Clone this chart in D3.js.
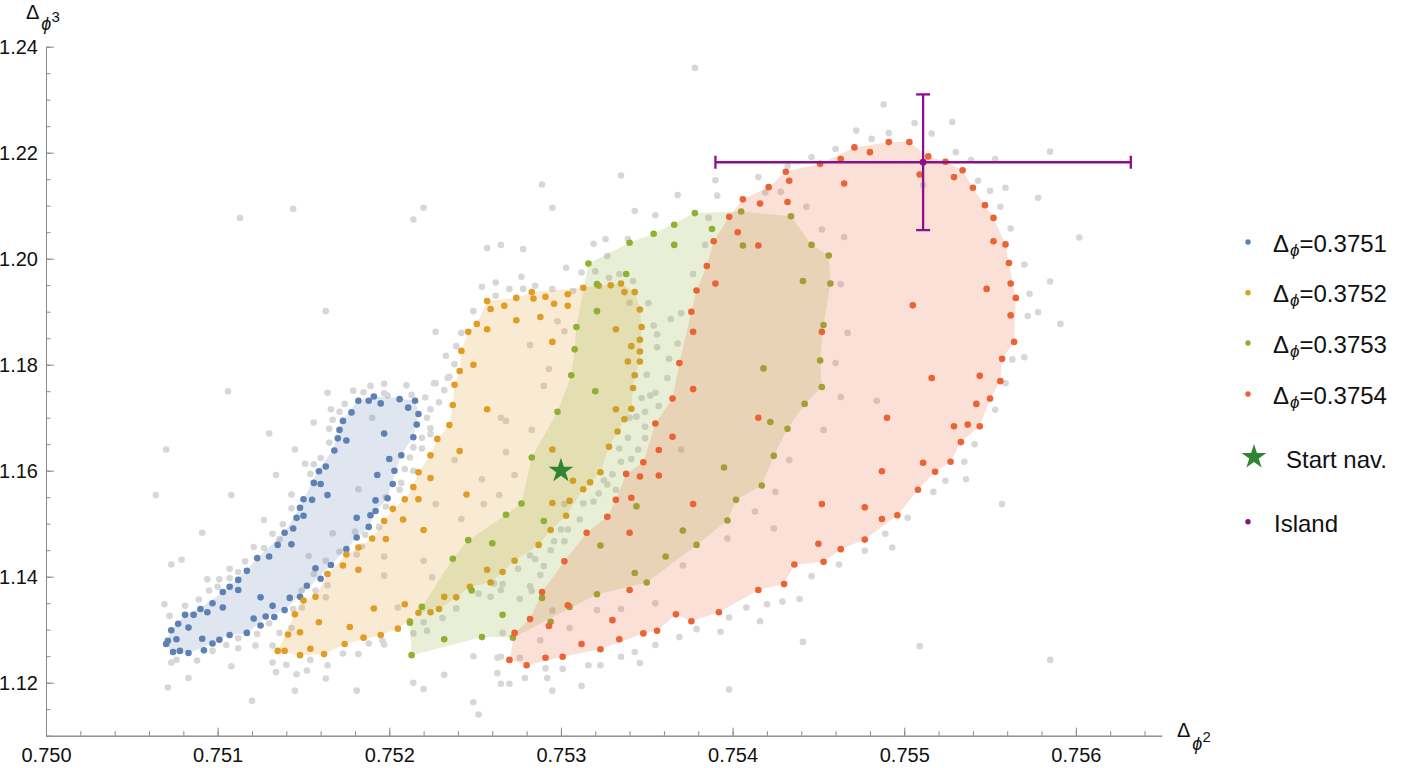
<!DOCTYPE html>
<html>
<head>
<meta charset="utf-8">
<script src="https://cdn.jsdelivr.net/npm/d3@7"></script>
<style>
  body { margin: 0; background: #fff; }
  text { font-family: "Liberation Sans", Arial, sans-serif; }
</style>
</head>
<body>
<script>
// ---- data (Δφ² , Δφ³) ----
var seriesLabels = ['=0.3751', '=0.3752', '=0.3753', '=0.3754'];
var seriesColors = ['#5e81b5', '#e19c24', '#8fb032', '#eb6235'];

var blue = [
[0.75070,1.1273],[0.75071,1.1279],[0.75073,1.1299],[0.75076,1.1282],[0.75074,1.1258],[0.75078,1.1260],[0.75083,1.1256],[0.75077,1.1311],[0.75083,1.1304],[0.75081,1.1328],
[0.75086,1.1328],[0.75090,1.1339],[0.75094,1.1333],[0.75097,1.1350],[0.75103,1.1342],[0.75103,1.1371],[0.75107,1.1381],[0.75112,1.1375],[0.75112,1.1394],[0.75117,1.1411],
[0.75123,1.1435],[0.75130,1.1438],[0.75135,1.1460],[0.75139,1.1483],[0.75143,1.1461],[0.75144,1.1491],[0.75146,1.1511],[0.75148,1.1530],[0.75150,1.1515],[0.75150,1.1546],
[0.75155,1.1545],[0.75156,1.1577],[0.75160,1.1575],[0.75159,1.1599],[0.75164,1.1554],[0.75163,1.1608],[0.75168,1.1638],[0.75170,1.1661],[0.75171,1.1677],[0.75175,1.1657],
[0.75173,1.1694],[0.75178,1.1710],[0.75182,1.1732],[0.75188,1.1732],[0.75191,1.1740],[0.75195,1.1727],[0.75206,1.1735],[0.75215,1.1732],[0.75211,1.1719],[0.75217,1.1707],
[0.75216,1.1687],[0.75214,1.1663],[0.75197,1.1670],[0.75200,1.1622],[0.75207,1.1629],[0.75193,1.1592],[0.75203,1.1600],[0.75202,1.1575],[0.75199,1.1548],[0.75192,1.1544],
[0.75192,1.1524],[0.75189,1.1516],[0.75181,1.1511],[0.75188,1.1494],[0.75181,1.1474],[0.75175,1.1452],[0.75166,1.1422],[0.75160,1.1396],[0.75157,1.1416],[0.75152,1.1383],
[0.75148,1.1362],[0.75142,1.1360],[0.75139,1.1337],[0.75132,1.1345],[0.75133,1.1324],[0.75128,1.1325],[0.75125,1.1308],[0.75121,1.1321],[0.75125,1.1361],[0.75117,1.1294],
[0.75107,1.1290],[0.75101,1.1281],[0.75097,1.1274],[0.75091,1.1283],[0.75092,1.1261]
];

var orange = [
[0.75313,1.1945],[0.75304,1.1933],[0.75304,1.1911],[0.75296,1.1915],[0.75291,1.1928],[0.75284,1.1925],[0.75283,1.1937],[0.75274,1.1926],[0.75267,1.1911],[0.75259,1.1905],
[0.75257,1.1920],[0.75257,1.1867],[0.75251,1.1877],[0.75246,1.1862],[0.75242,1.1826],[0.75249,1.1800],[0.75241,1.1788],[0.75238,1.1762],[0.75237,1.1724],[0.75257,1.1716],
[0.75235,1.1686],[0.75228,1.1660],[0.75241,1.1637],[0.75224,1.1629],[0.75224,1.1586],[0.75217,1.1597],[0.75214,1.1569],[0.75209,1.1546],[0.75217,1.1546],[0.75208,1.1508],
[0.75220,1.1488],[0.75245,1.1555],[0.75295,1.1843],[0.75274,1.1884],[0.75288,1.1890],[0.75322,1.1949],[0.75329,1.1950],[0.75335,1.1953],[0.75337,1.1937],[0.75343,1.1937],
[0.75346,1.1904],[0.75332,1.1867],[0.75347,1.1871],[0.75346,1.1847],[0.75341,1.1835],[0.75346,1.1825],[0.75339,1.1806],[0.75346,1.1806],[0.75343,1.1780],[0.75342,1.1756],
[0.75332,1.1716],[0.75341,1.1717],[0.75337,1.1697],[0.75333,1.1674],[0.75328,1.1645],[0.75323,1.1597],[0.75317,1.1578],[0.75313,1.1565],[0.75307,1.1581],[0.75295,1.1640],
[0.75295,1.1539],[0.75305,1.1543],[0.75303,1.1515],[0.75294,1.1488],[0.75287,1.1460],[0.75273,1.1430],[0.75266,1.1409],[0.75257,1.1413],[0.75259,1.1389],[0.75247,1.1381],
[0.75239,1.1361],[0.75232,1.1362],[0.75229,1.1339],[0.75224,1.1333],[0.75217,1.1332],[0.75212,1.1316],[0.75209,1.1348],[0.75202,1.1528],[0.75197,1.1505],[0.75198,1.1471],
[0.75190,1.1472],[0.75182,1.1455],[0.75175,1.1442],[0.75173,1.1421],[0.75182,1.1413],[0.75164,1.1405],[0.75157,1.1362],[0.75150,1.1355],[0.75145,1.1329],[0.75148,1.1295],
[0.75141,1.1291],[0.75159,1.1314],[0.75177,1.1305],[0.75191,1.1340],[0.75205,1.1302],[0.75195,1.1290],[0.75185,1.1285],[0.75174,1.1273],[0.75162,1.1254],[0.75154,1.1264],
[0.75148,1.1252],[0.75139,1.1260],[0.75135,1.1260]
];

var green = [
[0.75316,1.1991],[0.75338,1.1971],[0.75321,1.1952],[0.75321,1.1901],[0.75309,1.1871],[0.75308,1.1829],[0.75306,1.1780],[0.75320,1.1750],[0.75298,1.1711],[0.75283,1.1625],
[0.75277,1.1538],[0.75268,1.1517],[0.75290,1.1505],[0.75246,1.1469],[0.75260,1.1463],[0.75237,1.1434],[0.75248,1.1374],[0.75219,1.1343],[0.75212,1.1313],[0.75213,1.1252],
[0.75232,1.1282],[0.75254,1.1286],[0.75272,1.1285],[0.75266,1.1328],[0.75294,1.1315],[0.75289,1.1360],[0.75305,1.1343],[0.75321,1.1367],[0.75344,1.1533],[0.75323,1.1459],
[0.75343,1.1407],[0.75350,1.1389],[0.75361,1.1438],[0.75371,1.1487],[0.75379,1.1460],[0.75340,1.2030],[0.75354,1.2047],[0.75366,1.2064],[0.75366,1.2026],[0.75378,1.2086],
[0.75388,1.2056],[0.75405,1.2089],[0.75406,1.2025],[0.75434,1.2080],[0.75446,1.2026],[0.75456,1.2006],[0.75441,1.1958],[0.75457,1.1953],[0.75453,1.1875],[0.75451,1.1808],
[0.75418,1.1793],[0.75452,1.1758],[0.75442,1.1726],[0.75422,1.1692],[0.75432,1.1679],[0.75424,1.1628],[0.75395,1.1606],[0.75417,1.1572],[0.75402,1.1545],[0.75397,1.1506]
];

var red = [
[0.75406,1.2112],[0.75416,1.2104],[0.75421,1.2135],[0.75431,1.2164],[0.75433,1.2147],[0.75432,1.2107],[0.75451,1.2179],[0.75463,1.2188],[0.75471,1.2210],[0.75480,1.2201],
[0.75491,1.2220],[0.75503,1.2220],[0.75509,1.2159],[0.75514,1.2193],[0.75524,1.2183],[0.75534,1.2167],[0.75529,1.2154],[0.75540,1.2134],[0.75547,1.2101],[0.75552,1.2077],
[0.75552,1.2033],[0.75559,1.2027],[0.75561,1.1992],[0.75562,1.1953],[0.75565,1.1926],[0.75562,1.1893],[0.75548,1.1943],[0.75505,1.1912],[0.75465,1.2142],[0.75398,1.2079],
[0.75403,1.2050],[0.75389,1.2033],[0.75415,1.2025],[0.75385,1.1986],[0.75390,1.1953],[0.75379,1.1940],[0.75376,1.1900],[0.75377,1.1862],[0.75452,1.1862],[0.75564,1.1843],
[0.75557,1.1811],[0.75556,1.1769],[0.75544,1.1779],[0.75550,1.1736],[0.75542,1.1726],[0.75544,1.1684],[0.75537,1.1687],[0.75529,1.1684],[0.75533,1.1654],[0.75516,1.1775],
[0.75490,1.1700],[0.75487,1.1599],[0.75511,1.1615],[0.75527,1.1617],[0.75518,1.1598],[0.75508,1.1564],[0.75496,1.1516],[0.75487,1.1509],[0.75477,1.1531],[0.75477,1.1470],
[0.75463,1.1452],[0.75453,1.1428],[0.75450,1.1462],[0.75452,1.1537],[0.75436,1.1423],[0.75430,1.1386],[0.75415,1.1375],[0.75392,1.1333],[0.75376,1.1316],[0.75377,1.1754],
[0.75377,1.1537],[0.75415,1.1700],[0.75369,1.1803],[0.75365,1.1736],[0.75365,1.1664],[0.75355,1.1689],[0.75357,1.1639],[0.75348,1.1616],[0.75338,1.1594],[0.75346,1.1589],
[0.75357,1.1591],[0.75332,1.1545],[0.75341,1.1549],[0.75327,1.1513],[0.75315,1.1483],[0.75340,1.1483],[0.75302,1.1429],[0.75289,1.1371],[0.75304,1.1346],[0.75282,1.1320],
[0.75293,1.1307],[0.75273,1.1294],[0.75270,1.1243],[0.75280,1.1233],[0.75291,1.1247],[0.75301,1.1249],[0.75312,1.1273],[0.75323,1.1263],[0.75334,1.1282],[0.75330,1.1318],
[0.75340,1.1375],[0.75348,1.1293],[0.75356,1.1298],[0.75367,1.1329]
];

var gray = [
[0.75106,1.1750],[0.75070,1.1640],[0.75064,1.1554],[0.75108,1.1554],[0.75091,1.1483],[0.75073,1.1423],[0.75079,1.1432],[0.75069,1.1348],[0.75072,1.1326],[0.75081,1.1345],
[0.75089,1.1357],[0.75073,1.1238],[0.75076,1.1243],[0.75088,1.1242],[0.75083,1.1209],[0.75071,1.1191],[0.75108,1.1231],[0.75097,1.1260],[0.75105,1.1271],[0.75112,1.1265],
[0.75123,1.1292],[0.75122,1.1270],[0.75112,1.1284],[0.75130,1.1312],[0.75136,1.1294],[0.75132,1.1270],[0.75132,1.1238],[0.75134,1.1220],[0.75140,1.1234],[0.75146,1.1216],
[0.75152,1.1223],[0.75164,1.1233],[0.75163,1.1208],[0.75154,1.1243],[0.75173,1.1255],[0.75182,1.1254],[0.75196,1.1279],[0.75197,1.1272],[0.75214,1.1200],[0.75220,1.1188],
[0.75232,1.1215],[0.75095,1.1374],[0.75100,1.1381],[0.75094,1.1395],[0.75101,1.1395],[0.75107,1.1415],[0.75112,1.1409],[0.75116,1.1429],[0.75107,1.1397],[0.75121,1.1456],
[0.75127,1.1454],[0.75127,1.1507],[0.75132,1.1481],[0.75138,1.1499],[0.75136,1.1471],[0.75143,1.1555],[0.75143,1.1529],[0.75134,1.1592],[0.75145,1.1640],[0.75130,1.1670],
[0.75151,1.1613],[0.75154,1.1594],[0.75156,1.1612],[0.75160,1.1624],[0.75156,1.1691],[0.75164,1.1747],[0.75166,1.1716],[0.75165,1.1679],[0.75165,1.1653],[0.75171,1.1711],
[0.75174,1.1726],[0.75167,1.1696],[0.75179,1.1751],[0.75185,1.1748],[0.75189,1.1760],[0.75197,1.1764],[0.75210,1.1761],[0.75197,1.1746],[0.75199,1.1742],[0.75213,1.1743],
[0.75221,1.1738],[0.75226,1.1765],[0.75232,1.1752],[0.75235,1.1777],[0.75229,1.1729],[0.75224,1.1716],[0.75222,1.1700],[0.75224,1.1680],[0.75224,1.1669],[0.75219,1.1662],
[0.75214,1.1644],[0.75219,1.1642],[0.75212,1.1625],[0.75209,1.1603],[0.75214,1.1600],[0.75207,1.1577],[0.75206,1.1564],[0.75198,1.1550],[0.75198,1.1532],[0.75194,1.1494],
[0.75186,1.1479],[0.75180,1.1485],[0.75184,1.1457],[0.75181,1.1442],[0.75171,1.1447],[0.75163,1.1430],[0.75156,1.1405],[0.75149,1.1374],[0.75157,1.1374],[0.75163,1.1361],
[0.75164,1.1384],[0.75182,1.1565],[0.75190,1.1700],[0.75167,1.1482],[0.75153,1.1439],[0.75149,1.1342],[0.75144,1.1339],[0.75143,1.1303],[0.75227,1.1537],[0.75220,1.1430],
[0.75197,1.1438],[0.75197,1.1402],[0.75225,1.1399],[0.75205,1.1342],[0.75220,1.1314],[0.75231,1.1322],[0.75222,1.1298],[0.75214,1.1293],[0.75113,1.2077],[0.75144,1.2094],
[0.75163,1.1901],[0.75120,1.1166],[0.75145,1.1185],[0.75181,1.1185],[0.75188,1.1274],
[0.75303,1.1983],[0.75312,1.1974],[0.75320,1.1976],[0.75334,1.1971],[0.75328,1.1964],[0.75342,1.1958],[0.75340,1.1917],[0.75351,1.1916],[0.75377,1.1971],[0.75277,1.1966],
[0.75262,1.1955],[0.75285,1.1949],[0.75270,1.1943],[0.75254,1.1947],[0.75262,1.1930],[0.75278,1.1943],[0.75295,1.1943],[0.75307,1.1939],[0.75298,1.1882],[0.75302,1.1863],
[0.75282,1.1837],[0.75293,1.1792],[0.75290,1.1760],[0.75249,1.1901],[0.75242,1.1860],[0.75227,1.1862],[0.75239,1.1835],[0.75233,1.1817],[0.75238,1.1801],[0.75234,1.1775],
[0.75227,1.1765],[0.75265,1.1700],[0.75268,1.1694],[0.75283,1.1677],[0.75268,1.1635],[0.75238,1.1620],[0.75273,1.1592],[0.75254,1.1584],[0.75264,1.1554],[0.75255,1.1537],
[0.75242,1.1509],[0.75302,1.1537],[0.75313,1.1538],[0.75311,1.1508],[0.75319,1.1542],[0.75322,1.1557],[0.75327,1.1574],[0.75325,1.1582],[0.75332,1.1564],[0.75330,1.1593],
[0.75335,1.1617],[0.75341,1.1622],[0.75345,1.1640],[0.75334,1.1642],[0.75339,1.1662],[0.75349,1.1661],[0.75370,1.1640],[0.75349,1.1683],[0.75340,1.1700],[0.75344,1.1702],
[0.75349,1.1711],[0.75347,1.1737],[0.75352,1.1742],[0.75355,1.1747],[0.75357,1.1722],[0.75350,1.1781],[0.75362,1.1775],[0.75368,1.1840],[0.75356,1.1833],[0.75354,1.1874],
[0.75363,1.1811],[0.75364,1.1886],[0.75370,1.1897],[0.75300,1.1489],[0.75304,1.1489],[0.75302,1.1467],[0.75296,1.1467],[0.75294,1.1450],[0.75290,1.1420],[0.75285,1.1433],
[0.75282,1.1440],[0.75288,1.1403],[0.75275,1.1415],[0.75261,1.1387],[0.75266,1.1386],[0.75252,1.1368],[0.75265,1.1375],[0.75259,1.1362],[0.75276,1.1358],[0.75282,1.1382],
[0.75283,1.1373],[0.75239,1.1340],[0.75266,1.1294],[0.75288,1.1280],[0.75305,1.1303],[0.75321,1.1337],[0.75335,1.1339],[0.75355,1.1350],[0.75369,1.1286],[0.75379,1.1301],
[0.75355,1.1271],[0.75343,1.1258],[0.75335,1.1249],[0.75323,1.1233],[0.75316,1.1233],[0.75346,1.1237],[0.75291,1.1227],[0.75301,1.1226],[0.75292,1.1209],[0.75279,1.1209],
[0.75263,1.1218],[0.75263,1.1247],[0.75249,1.1250],[0.75276,1.1247],[0.75295,1.1336],
[0.75398,1.1323],[0.75408,1.1342],[0.75416,1.1316],[0.75420,1.1348],[0.75429,1.1353],[0.75393,1.1296],[0.75441,1.1277],[0.75312,1.1194],[0.75295,1.1185],[0.75265,1.1198],
[0.75270,1.1198],[0.75249,1.1163],[0.75252,1.1140],[0.75398,1.1187],[0.75265,1.1249],
[0.75390,1.2148],[0.75368,1.2120],[0.75391,1.2119],[0.75343,1.2090],[0.75355,1.2082],[0.75339,1.2037],[0.75326,1.2037],[0.75327,1.2005],[0.75386,1.2077],[0.75384,1.2026],
[0.75295,1.2096],[0.75443,1.2098],[0.75428,1.2126],[0.75419,1.2125],[0.75452,1.2055],[0.75465,1.2041],[0.75463,1.1952],[0.75467,1.1860],[0.75460,1.1803],[0.75463,1.1739],
[0.75453,1.1677],[0.75433,1.1620],[0.75356,1.1857],
[0.75378,1.2360],[0.75335,1.2157],[0.75289,1.2140],[0.75220,1.2096],[0.75214,1.2074],[0.75265,1.2026],[0.75257,1.2020],[0.75278,1.2018],[0.75319,1.2028],
[0.75488,1.2291],[0.75506,1.2256],[0.75528,1.2258],[0.75472,1.2242],[0.75481,1.2226],[0.75491,1.2237],[0.75516,1.2236],[0.75460,1.2207],[0.75446,1.2192],[0.75432,1.2175],
[0.75415,1.2154],[0.75530,1.2201],[0.75539,1.2186],[0.75553,1.2188],[0.75543,1.2147],[0.75559,1.2134],[0.75550,1.2128],[0.75511,1.2139],[0.75585,1.2202],[0.75578,1.2115],
[0.75556,1.2098],[0.75562,1.2057],[0.75602,1.2040],[0.75570,1.1989],[0.75585,1.1957],[0.75573,1.1934],[0.75578,1.1899],[0.75572,1.1892],[0.75591,1.1877],[0.75563,1.1810],
[0.75570,1.1814],[0.75559,1.1765],[0.75553,1.1715],[0.75557,1.1537],[0.75585,1.1243],
[0.75484,1.1732],[0.75425,1.1560],[0.75413,1.1523],[0.75424,1.1491],[0.75397,1.1472],[0.75371,1.1421],[0.75541,1.1650],[0.75535,1.1617],[0.75536,1.1584],[0.75524,1.1581],
[0.75517,1.1560],[0.75502,1.1511],[0.75489,1.1481],[0.75493,1.1455],[0.75477,1.1449],[0.75462,1.1423],[0.75446,1.1401],[0.75439,1.1358],[0.75509,1.1269]
];

// outlines of the shaded regions
var blueHull = [
[0.75070,1.1274],[0.75073,1.1299],[0.75081,1.1328],[0.75090,1.1341],[0.75103,1.1371],[0.75117,1.1413],[0.75123,1.1435],[0.75139,1.1483],[0.75148,1.1532],[0.75158,1.1598],
[0.75167,1.1639],[0.75173,1.1695],[0.75181,1.1730],[0.75191,1.1740],[0.75205,1.1737],[0.75215,1.1732],[0.75217,1.1709],[0.75214,1.1664],[0.75207,1.1630],[0.75201,1.1573],
[0.75199,1.1548],[0.75192,1.1523],[0.75188,1.1494],[0.75181,1.1473],[0.75174,1.1450],[0.75166,1.1422],[0.75156,1.1390],[0.75147,1.1362],[0.75139,1.1337],[0.75128,1.1324],
[0.75117,1.1293],[0.75106,1.1290],[0.75097,1.1274],[0.75083,1.1256],[0.75073,1.1258]
];
var orangeHull = [
[0.75135,1.1260],[0.75145,1.1329],[0.75150,1.1355],[0.75157,1.1362],[0.75164,1.1405],[0.75175,1.1442],[0.75182,1.1455],[0.75190,1.1472],[0.75197,1.1505],[0.75202,1.1528],
[0.75209,1.1546],[0.75214,1.1569],[0.75217,1.1597],[0.75224,1.1629],[0.75228,1.1660],[0.75235,1.1686],[0.75237,1.1724],[0.75238,1.1762],[0.75241,1.1788],[0.75242,1.1826],
[0.75246,1.1862],[0.75251,1.1877],[0.75257,1.1920],[0.75274,1.1926],[0.75283,1.1937],[0.75313,1.1945],[0.75322,1.1949],[0.75335,1.1953],[0.75343,1.1937],[0.75346,1.1904],
[0.75347,1.1871],[0.75346,1.1806],[0.75343,1.1780],[0.75342,1.1756],[0.75341,1.1717],[0.75333,1.1674],[0.75328,1.1645],[0.75323,1.1597],[0.75317,1.1578],[0.75313,1.1565],
[0.75303,1.1515],[0.75294,1.1488],[0.75287,1.1460],[0.75273,1.1430],[0.75266,1.1409],[0.75259,1.1389],[0.75247,1.1381],[0.75239,1.1361],[0.75229,1.1339],[0.75217,1.1332],
[0.75205,1.1302],[0.75195,1.1290],[0.75174,1.1273],[0.75162,1.1254],[0.75148,1.1252]
];
var greenHull = [
[0.75213,1.1252],[0.75212,1.1313],[0.75219,1.1343],[0.75237,1.1434],[0.75246,1.1469],[0.75268,1.1517],[0.75277,1.1538],[0.75283,1.1625],[0.75298,1.1711],[0.75306,1.1780],
[0.75308,1.1829],[0.75309,1.1871],[0.75316,1.1991],[0.75340,1.2030],[0.75354,1.2047],[0.75378,1.2086],[0.75405,1.2089],[0.75434,1.2080],[0.75446,1.2026],[0.75456,1.2006],
[0.75457,1.1953],[0.75453,1.1875],[0.75451,1.1808],[0.75452,1.1758],[0.75442,1.1726],[0.75432,1.1679],[0.75424,1.1628],[0.75417,1.1572],[0.75402,1.1545],[0.75397,1.1506],
[0.75379,1.1460],[0.75350,1.1389],[0.75321,1.1367],[0.75272,1.1285],[0.75254,1.1286]
];
var redHull = [
[0.75270,1.1243],[0.75273,1.1294],[0.75282,1.1320],[0.75289,1.1371],[0.75302,1.1429],[0.75315,1.1483],[0.75327,1.1513],[0.75332,1.1545],[0.75338,1.1594],[0.75348,1.1616],
[0.75355,1.1689],[0.75365,1.1736],[0.75369,1.1803],[0.75376,1.1900],[0.75379,1.1940],[0.75385,1.1986],[0.75389,1.2033],[0.75398,1.2079],[0.75406,1.2112],[0.75421,1.2135],
[0.75431,1.2164],[0.75451,1.2179],[0.75471,1.2210],[0.75491,1.2220],[0.75503,1.2220],[0.75514,1.2193],[0.75524,1.2183],[0.75534,1.2167],[0.75540,1.2134],[0.75547,1.2101],
[0.75552,1.2077],[0.75559,1.2027],[0.75561,1.1992],[0.75565,1.1926],[0.75564,1.1843],[0.75557,1.1811],[0.75556,1.1769],[0.75550,1.1736],[0.75544,1.1684],[0.75533,1.1654],
[0.75527,1.1617],[0.75518,1.1598],[0.75508,1.1564],[0.75496,1.1516],[0.75477,1.1470],[0.75463,1.1452],[0.75453,1.1428],[0.75436,1.1423],[0.75430,1.1386],[0.75415,1.1375],
[0.75392,1.1333],[0.75376,1.1316],[0.75367,1.1329],[0.75356,1.1298],[0.75348,1.1293],[0.75323,1.1263],[0.75301,1.1249],[0.75280,1.1233]
];

var startNav = [0.75300, 1.1600];
var island = {x: 0.75511, y: 1.2182, dx: 0.00121, dy: 0.0128};

var xMajor = [0.750, 0.751, 0.752, 0.753, 0.754, 0.755, 0.756];
var yMajor = [1.12, 1.14, 1.16, 1.18, 1.20, 1.22, 1.24];

// ---- drawing ----
var width = 1412, height = 768;
var svg = d3.select('body').append('svg')
  .attr('width', width)
  .attr('height', height);

var x = d3.scaleLinear().domain([0.750, 0.7565]).range([46, 1161.7]);
var y = d3.scaleLinear().domain([1.11, 1.24]).range([735.7, 46.7]);

var xMinor = d3.range(0, 33).map(function(i) { return 0.750 + i * 0.0002; });
var yMinor = d3.range(0, 27).map(function(i) { return 1.11 + i * 0.005; });

function styleAxis(g) {
  g.attr('font-size', 20).attr('font-family', '"Liberation Sans", Arial, sans-serif');
  g.selectAll('.domain').attr('stroke', '#8a8a8a');
  g.selectAll('.tick line').attr('stroke', '#8a8a8a');
  g.selectAll('.tick text').attr('fill', '#111');
}

// minor ticks
svg.append('g')
  .attr('transform', 'translate(0,735.7)')
  .call(d3.axisBottom(x).tickValues(xMinor).tickSize(-4.5).tickSizeOuter(0).tickFormat(''))
  .call(styleAxis);
svg.append('g')
  .attr('transform', 'translate(46,0)')
  .call(d3.axisLeft(y).tickValues(yMinor).tickSize(-4.5).tickSizeOuter(0).tickFormat(''))
  .call(styleAxis);
// major ticks
svg.append('g')
  .attr('transform', 'translate(0,735.7)')
  .call(d3.axisBottom(x).tickValues(xMajor).tickSize(-8).tickSizeOuter(0).tickPadding(12).tickFormat(d3.format('.3f')))
  .call(styleAxis);
svg.append('g')
  .attr('transform', 'translate(46,0)')
  .call(d3.axisLeft(y).tickValues(yMajor).tickSize(-8).tickSizeOuter(0).tickPadding(8).tickFormat(d3.format('.2f')))
  .call(styleAxis);

// axis labels
var yLab = svg.append('text').attr('x', 26).attr('y', 18.5).attr('fill', '#111');
yLab.append('tspan').attr('font-size', 20).text('Δ');
yLab.append('tspan').attr('font-size', 18).attr('font-style', 'italic').attr('dx', 2).attr('dy', 11).text('ϕ');
yLab.append('tspan').attr('font-size', 15).attr('dy', -8).text('3');

var xLab = svg.append('text').attr('x', 1177).attr('y', 737).attr('fill', '#111');
xLab.append('tspan').attr('font-size', 20).text('Δ');
xLab.append('tspan').attr('font-size', 18).attr('font-style', 'italic').attr('dx', 2).attr('dy', 13).text('ϕ');
xLab.append('tspan').attr('font-size', 15).attr('dy', -8).text('2');

// gray background points
var plot = svg.append('g');
plot.append('g').selectAll('circle')
  .data(gray)
  .enter().append('circle')
  .attr('cx', function(d) { return x(d[0]); })
  .attr('cy', function(d) { return y(d[1]); })
  .attr('r', 3.3)
  .attr('fill', '#d7d7d7');

var line = d3.line()
  .x(function(d) { return x(d[0]); })
  .y(function(d) { return y(d[1]); })
  .curve(d3.curveLinearClosed);

var series = [
  {pts: blue, hull: blueHull},
  {pts: orange, hull: orangeHull},
  {pts: green, hull: greenHull},
  {pts: red, hull: redHull}
];

series.forEach(function(s, i) {
  plot.append('path')
    .attr('d', line(s.hull))
    .attr('fill', seriesColors[i])
    .attr('fill-opacity', 0.2)
    .attr('stroke', 'none');
  plot.append('g').selectAll('circle')
    .data(s.pts)
    .enter().append('circle')
    .attr('cx', function(d) { return x(d[0]); })
    .attr('cy', function(d) { return y(d[1]); })
    .attr('r', 3.3)
    .attr('fill', seriesColors[i]);
});

// start navigation star
var starColor = '#318431';
plot.append('path')
  .attr('d', d3.symbol().type(d3.symbolStar).size(190)())
  .attr('transform', 'translate(' + x(startNav[0]) + ',' + y(startNav[1]) + ')')
  .attr('fill', starColor);

// island with error bars
var purple = '#8b108b';
var eb = plot.append('g').attr('stroke', purple).attr('stroke-width', 2.3).attr('fill', 'none');
eb.append('line')
  .attr('x1', x(island.x - island.dx)).attr('x2', x(island.x + island.dx))
  .attr('y1', y(island.y)).attr('y2', y(island.y));
eb.append('line')
  .attr('x1', x(island.x)).attr('x2', x(island.x))
  .attr('y1', y(island.y - island.dy)).attr('y2', y(island.y + island.dy));
[island.x - island.dx, island.x + island.dx].forEach(function(v) {
  eb.append('line')
    .attr('x1', x(v)).attr('x2', x(v))
    .attr('y1', y(island.y) - 6.5).attr('y2', y(island.y) + 6.5);
});
[island.y - island.dy, island.y + island.dy].forEach(function(v) {
  eb.append('line')
    .attr('x1', x(island.x) - 7).attr('x2', x(island.x) + 7)
    .attr('y1', y(v)).attr('y2', y(v));
});
plot.append('circle')
  .attr('cx', x(island.x)).attr('cy', y(island.y))
  .attr('r', 3.4).attr('fill', purple);

// legend
var legend = svg.append('g');
var rowY = [242, 292.7, 343, 394];
seriesLabels.forEach(function(lbl, i) {
  legend.append('circle')
    .attr('cx', 1248).attr('cy', rowY[i]).attr('r', 2.7)
    .attr('fill', seriesColors[i]);
  var t = legend.append('text')
    .attr('x', 1273).attr('y', rowY[i] + 9.7)
    .attr('fill', '#111');
  t.append('tspan').attr('font-size', 24).text('Δ');
  t.append('tspan').attr('font-size', 17).attr('font-style', 'italic').attr('dx', 1).attr('dy', 4).text('ϕ');
  t.append('tspan').attr('font-size', 24).attr('dy', -4).text(lbl);
});
legend.append('path')
  .attr('d', d3.symbol().type(d3.symbolStar).size(190)())
  .attr('transform', 'translate(1254,457)')
  .attr('fill', starColor);
legend.append('text')
  .attr('x', 1286).attr('y', 468)
  .attr('font-size', 24).attr('fill', '#111')
  .text('Start nav.');
legend.append('circle')
  .attr('cx', 1248).attr('cy', 521.7).attr('r', 2.7)
  .attr('fill', purple);
legend.append('text')
  .attr('x', 1274).attr('y', 531.7)
  .attr('font-size', 24).attr('fill', '#111')
  .text('Island');
</script>
</body>
</html>
